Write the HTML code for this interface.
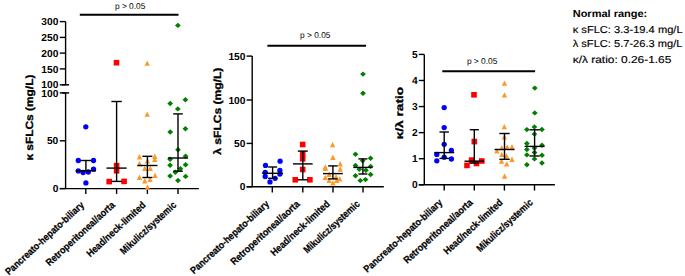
<!DOCTYPE html>
<html><head><meta charset="utf-8"><style>
html,body{margin:0;padding:0;background:#fff;}
svg{display:block;}
text{font-family:"Liberation Sans",sans-serif;fill:#000;text-rendering:geometricPrecision;}
</style></head><body>
<svg width="685" height="276" viewBox="0 0 685 276">
<line x1="65.6" y1="21.6" x2="65.6" y2="84.8" stroke="#000" stroke-width="1.4"/>
<line x1="59.8" y1="21.6" x2="65.6" y2="21.6" stroke="#000" stroke-width="1.4"/>
<text x="58.3" y="25.25" font-size="10.2" text-anchor="end" font-weight="bold">300</text>
<line x1="59.8" y1="37.4" x2="65.6" y2="37.4" stroke="#000" stroke-width="1.4"/>
<text x="58.3" y="41.05" font-size="10.2" text-anchor="end" font-weight="bold">250</text>
<line x1="59.8" y1="53.1" x2="65.6" y2="53.1" stroke="#000" stroke-width="1.4"/>
<text x="58.3" y="56.75" font-size="10.2" text-anchor="end" font-weight="bold">200</text>
<line x1="59.8" y1="68.9" x2="65.6" y2="68.9" stroke="#000" stroke-width="1.4"/>
<text x="58.3" y="72.55000000000001" font-size="10.2" text-anchor="end" font-weight="bold">150</text>
<line x1="59.8" y1="84.8" x2="65.6" y2="84.8" stroke="#000" stroke-width="1.4"/>
<text x="58.3" y="88.45" font-size="10.2" text-anchor="end" font-weight="bold">100</text>
<line x1="62.1" y1="84.8" x2="69.1" y2="84.8" stroke="#000" stroke-width="1.5"/>
<line x1="65.6" y1="92.9" x2="65.6" y2="188.6" stroke="#000" stroke-width="1.4"/>
<line x1="62.1" y1="92.9" x2="69.1" y2="92.9" stroke="#000" stroke-width="1.5"/>
<line x1="59.8" y1="92.9" x2="65.6" y2="92.9" stroke="#000" stroke-width="1.4"/>
<text x="58.3" y="96.55000000000001" font-size="10.2" text-anchor="end" font-weight="bold">100</text>
<line x1="59.8" y1="140.8" x2="65.6" y2="140.8" stroke="#000" stroke-width="1.4"/>
<text x="58.3" y="144.45000000000002" font-size="10.2" text-anchor="end" font-weight="bold">50</text>
<line x1="59.8" y1="188.6" x2="65.6" y2="188.6" stroke="#000" stroke-width="1.4"/>
<text x="58.3" y="192.25" font-size="10.2" text-anchor="end" font-weight="bold">0</text>
<line x1="59.8" y1="188.6" x2="198.9" y2="188.6" stroke="#000" stroke-width="1.4"/>
<line x1="85.8" y1="188.6" x2="85.8" y2="193.9" stroke="#000" stroke-width="1.4"/>
<line x1="116.6" y1="188.6" x2="116.6" y2="193.9" stroke="#000" stroke-width="1.4"/>
<line x1="147.4" y1="188.6" x2="147.4" y2="193.9" stroke="#000" stroke-width="1.4"/>
<line x1="178.0" y1="188.6" x2="178.0" y2="193.9" stroke="#000" stroke-width="1.4"/>
<circle cx="85.8" cy="126.8" r="2.65" fill="#0000FF"/>
<circle cx="78.3" cy="160.5" r="2.65" fill="#0000FF"/>
<circle cx="93.5" cy="160.5" r="2.65" fill="#0000FF"/>
<circle cx="78.3" cy="170.9" r="2.65" fill="#0000FF"/>
<circle cx="83.1" cy="172.5" r="2.65" fill="#0000FF"/>
<circle cx="88.3" cy="172" r="2.65" fill="#0000FF"/>
<circle cx="93.5" cy="169.2" r="2.65" fill="#0000FF"/>
<circle cx="85.9" cy="182.9" r="2.65" fill="#0000FF"/>
<line x1="85.9" y1="160.5" x2="85.9" y2="170.7" stroke="#000" stroke-width="1.4"/>
<line x1="80.7" y1="160.5" x2="91.10000000000001" y2="160.5" stroke="#000" stroke-width="1.4"/>
<line x1="80.7" y1="170.7" x2="91.10000000000001" y2="170.7" stroke="#000" stroke-width="1.4"/>
<line x1="75.80000000000001" y1="170.7" x2="96.0" y2="170.7" stroke="#000" stroke-width="1.4"/>
<rect x="113.70" y="59.90" width="5.6" height="5.6" fill="#FF0000"/>
<rect x="113.80" y="162.80" width="5.6" height="5.6" fill="#FF0000"/>
<rect x="113.80" y="168.00" width="5.6" height="5.6" fill="#FF0000"/>
<rect x="106.40" y="178.80" width="5.6" height="5.6" fill="#FF0000"/>
<rect x="121.30" y="178.60" width="5.6" height="5.6" fill="#FF0000"/>
<line x1="116.6" y1="101.5" x2="116.6" y2="181.4" stroke="#000" stroke-width="1.4"/>
<line x1="111.39999999999999" y1="101.5" x2="121.8" y2="101.5" stroke="#000" stroke-width="1.4"/>
<line x1="111.39999999999999" y1="181.4" x2="121.8" y2="181.4" stroke="#000" stroke-width="1.4"/>
<line x1="106.5" y1="168.1" x2="126.69999999999999" y2="168.1" stroke="#000" stroke-width="1.4"/>
<polygon points="147.20,60.40 149.90,65.80 144.50,65.80" fill="#F99A2B"/>
<polygon points="147.20,111.40 149.90,116.80 144.50,116.80" fill="#F99A2B"/>
<polygon points="139.50,154.10 142.20,159.50 136.80,159.50" fill="#F99A2B"/>
<polygon points="154.80,153.60 157.50,159.00 152.10,159.00" fill="#F99A2B"/>
<polygon points="154.80,156.50 157.50,161.90 152.10,161.90" fill="#F99A2B"/>
<polygon points="147.50,158.10 150.20,163.50 144.80,163.50" fill="#F99A2B"/>
<polygon points="139.50,160.80 142.20,166.20 136.80,166.20" fill="#F99A2B"/>
<polygon points="144.80,165.70 147.50,171.10 142.10,171.10" fill="#F99A2B"/>
<polygon points="150.30,165.70 153.00,171.10 147.60,171.10" fill="#F99A2B"/>
<polygon points="139.50,174.50 142.20,179.90 136.80,179.90" fill="#F99A2B"/>
<polygon points="155.10,172.70 157.80,178.10 152.40,178.10" fill="#F99A2B"/>
<polygon points="144.80,178.00 147.50,183.40 142.10,183.40" fill="#F99A2B"/>
<polygon points="150.00,176.70 152.70,182.10 147.30,182.10" fill="#F99A2B"/>
<polygon points="147.50,184.30 150.20,189.70 144.80,189.70" fill="#F99A2B"/>
<line x1="147.4" y1="156.3" x2="147.4" y2="177.5" stroke="#000" stroke-width="1.4"/>
<line x1="142.4" y1="156.3" x2="152.4" y2="156.3" stroke="#000" stroke-width="1.4"/>
<line x1="142.4" y1="177.5" x2="152.4" y2="177.5" stroke="#000" stroke-width="1.4"/>
<line x1="137.35" y1="165.5" x2="157.45000000000002" y2="165.5" stroke="#000" stroke-width="1.4"/>
<polygon points="177.90,22.70 180.80,25.40 177.90,28.10 175.00,25.40" fill="#008000"/>
<polygon points="170.20,100.80 173.10,103.50 170.20,106.20 167.30,103.50" fill="#008000"/>
<polygon points="185.40,97.10 188.30,99.80 185.40,102.50 182.50,99.80" fill="#008000"/>
<polygon points="177.80,106.20 180.70,108.90 177.80,111.60 174.90,108.90" fill="#008000"/>
<polygon points="170.20,129.30 173.10,132.00 170.20,134.70 167.30,132.00" fill="#008000"/>
<polygon points="185.40,126.00 188.30,128.70 185.40,131.40 182.50,128.70" fill="#008000"/>
<polygon points="178.00,147.10 180.90,149.80 178.00,152.50 175.10,149.80" fill="#008000"/>
<polygon points="170.10,156.50 173.00,159.20 170.10,161.90 167.20,159.20" fill="#008000"/>
<polygon points="185.60,153.50 188.50,156.20 185.60,158.90 182.70,156.20" fill="#008000"/>
<polygon points="170.10,162.60 173.00,165.30 170.10,168.00 167.20,165.30" fill="#008000"/>
<polygon points="185.60,162.10 188.50,164.80 185.60,167.50 182.70,164.80" fill="#008000"/>
<polygon points="175.40,169.50 178.30,172.20 175.40,174.90 172.50,172.20" fill="#008000"/>
<polygon points="180.40,166.00 183.30,168.70 180.40,171.40 177.50,168.70" fill="#008000"/>
<polygon points="170.10,173.30 173.00,176.00 170.10,178.70 167.20,176.00" fill="#008000"/>
<polygon points="185.60,173.70 188.50,176.40 185.60,179.10 182.70,176.40" fill="#008000"/>
<polygon points="178.00,177.80 180.90,180.50 178.00,183.20 175.10,180.50" fill="#008000"/>
<line x1="178.0" y1="113.9" x2="178.0" y2="171.2" stroke="#000" stroke-width="1.4"/>
<line x1="173.2" y1="113.9" x2="182.8" y2="113.9" stroke="#000" stroke-width="1.4"/>
<line x1="173.2" y1="171.2" x2="182.8" y2="171.2" stroke="#000" stroke-width="1.4"/>
<line x1="167.9" y1="158.0" x2="188.1" y2="158.0" stroke="#000" stroke-width="1.4"/>
<line x1="79.8" y1="14.7" x2="178.5" y2="14.7" stroke="#000" stroke-width="2"/>
<text x="115" y="8.8" font-size="8.5" textLength="30.3" lengthAdjust="spacingAndGlyphs">p &gt; 0.05</text>
<text x="33.2" y="117.6" font-size="10.5" text-anchor="middle" font-weight="bold" textLength="86" lengthAdjust="spacingAndGlyphs" transform="rotate(-90 33.2 117.6)" stroke="#000" stroke-width="0.3">κ sFLCs (mg/L)</text>
<line x1="252.2" y1="56.1" x2="252.2" y2="186.8" stroke="#000" stroke-width="1.4"/>
<line x1="246.6" y1="56.1" x2="252.2" y2="56.1" stroke="#000" stroke-width="1.4"/>
<text x="245.4" y="59.75" font-size="10.2" text-anchor="end" font-weight="bold">150</text>
<line x1="246.6" y1="100.0" x2="252.2" y2="100.0" stroke="#000" stroke-width="1.4"/>
<text x="245.4" y="103.65" font-size="10.2" text-anchor="end" font-weight="bold">100</text>
<line x1="246.6" y1="143.4" x2="252.2" y2="143.4" stroke="#000" stroke-width="1.4"/>
<text x="245.4" y="147.05" font-size="10.2" text-anchor="end" font-weight="bold">50</text>
<line x1="246.6" y1="186.8" x2="252.2" y2="186.8" stroke="#000" stroke-width="1.4"/>
<text x="245.4" y="190.45000000000002" font-size="10.2" text-anchor="end" font-weight="bold">0</text>
<line x1="246.6" y1="186.8" x2="383.8" y2="186.8" stroke="#000" stroke-width="1.4"/>
<line x1="272.3" y1="186.8" x2="272.3" y2="192.6" stroke="#000" stroke-width="1.4"/>
<line x1="302.8" y1="186.8" x2="302.8" y2="192.6" stroke="#000" stroke-width="1.4"/>
<line x1="333.0" y1="186.8" x2="333.0" y2="192.6" stroke="#000" stroke-width="1.4"/>
<line x1="363.0" y1="186.8" x2="363.0" y2="192.6" stroke="#000" stroke-width="1.4"/>
<circle cx="265.5" cy="165.4" r="2.65" fill="#0000FF"/>
<circle cx="280.1" cy="161.2" r="2.65" fill="#0000FF"/>
<circle cx="265.2" cy="172.3" r="2.65" fill="#0000FF"/>
<circle cx="279.9" cy="170.5" r="2.65" fill="#0000FF"/>
<circle cx="279.9" cy="174.1" r="2.65" fill="#0000FF"/>
<circle cx="265.2" cy="176.5" r="2.65" fill="#0000FF"/>
<circle cx="275.1" cy="178.3" r="2.65" fill="#0000FF"/>
<circle cx="270" cy="181.9" r="2.65" fill="#0000FF"/>
<line x1="272.6" y1="167" x2="272.6" y2="178.3" stroke="#000" stroke-width="1.4"/>
<line x1="268.1" y1="167" x2="277.1" y2="167" stroke="#000" stroke-width="1.4"/>
<line x1="268.1" y1="178.3" x2="277.1" y2="178.3" stroke="#000" stroke-width="1.4"/>
<line x1="262.15000000000003" y1="173.3" x2="283.05" y2="173.3" stroke="#000" stroke-width="1.4"/>
<rect x="299.90" y="141.70" width="5.6" height="5.6" fill="#FF0000"/>
<rect x="299.90" y="151.20" width="5.6" height="5.6" fill="#FF0000"/>
<rect x="299.90" y="156.00" width="5.6" height="5.6" fill="#FF0000"/>
<rect x="299.90" y="166.70" width="5.6" height="5.6" fill="#FF0000"/>
<rect x="292.50" y="177.00" width="5.6" height="5.6" fill="#FF0000"/>
<rect x="307.10" y="177.00" width="5.6" height="5.6" fill="#FF0000"/>
<line x1="302.8" y1="151.1" x2="302.8" y2="179.8" stroke="#000" stroke-width="1.4"/>
<line x1="297.8" y1="151.1" x2="307.8" y2="151.1" stroke="#000" stroke-width="1.4"/>
<line x1="297.8" y1="179.8" x2="307.8" y2="179.8" stroke="#000" stroke-width="1.4"/>
<line x1="292.95" y1="163.9" x2="312.65000000000003" y2="163.9" stroke="#000" stroke-width="1.4"/>
<polygon points="332.60,141.90 335.30,147.30 329.90,147.30" fill="#F99A2B"/>
<polygon points="332.90,154.60 335.60,160.00 330.20,160.00" fill="#F99A2B"/>
<polygon points="325.30,164.30 328.00,169.70 322.60,169.70" fill="#F99A2B"/>
<polygon points="325.30,165.60 328.00,171.00 322.60,171.00" fill="#F99A2B"/>
<polygon points="340.20,161.00 342.90,166.40 337.50,166.40" fill="#F99A2B"/>
<polygon points="340.20,166.30 342.90,171.70 337.50,171.70" fill="#F99A2B"/>
<polygon points="329.10,171.60 331.80,177.00 326.40,177.00" fill="#F99A2B"/>
<polygon points="325.30,174.70 328.00,180.10 322.60,180.10" fill="#F99A2B"/>
<polygon points="336.00,173.90 338.70,179.30 333.30,179.30" fill="#F99A2B"/>
<polygon points="339.80,176.20 342.50,181.60 337.10,181.60" fill="#F99A2B"/>
<polygon points="329.10,177.70 331.80,183.10 326.40,183.10" fill="#F99A2B"/>
<polygon points="336.70,177.70 339.40,183.10 334.00,183.10" fill="#F99A2B"/>
<polygon points="332.90,180.00 335.60,185.40 330.20,185.40" fill="#F99A2B"/>
<line x1="332.9" y1="165.9" x2="332.9" y2="178.9" stroke="#000" stroke-width="1.4"/>
<line x1="328.15" y1="165.9" x2="337.65" y2="165.9" stroke="#000" stroke-width="1.4"/>
<line x1="328.15" y1="178.9" x2="337.65" y2="178.9" stroke="#000" stroke-width="1.4"/>
<line x1="323.0" y1="173.6" x2="342.79999999999995" y2="173.6" stroke="#000" stroke-width="1.4"/>
<polygon points="363.00,71.40 365.90,74.10 363.00,76.80 360.10,74.10" fill="#008000"/>
<polygon points="363.00,90.60 365.90,93.30 363.00,96.00 360.10,93.30" fill="#008000"/>
<polygon points="355.50,151.50 358.40,154.20 355.50,156.90 352.60,154.20" fill="#008000"/>
<polygon points="370.60,155.60 373.50,158.30 370.60,161.00 367.70,158.30" fill="#008000"/>
<polygon points="362.70,158.10 365.60,160.80 362.70,163.50 359.80,160.80" fill="#008000"/>
<polygon points="355.50,162.80 358.40,165.50 355.50,168.20 352.60,165.50" fill="#008000"/>
<polygon points="370.60,163.70 373.50,166.40 370.60,169.10 367.70,166.40" fill="#008000"/>
<polygon points="359.30,166.50 362.20,169.20 359.30,171.90 356.40,169.20" fill="#008000"/>
<polygon points="365.90,167.50 368.80,170.20 365.90,172.90 363.00,170.20" fill="#008000"/>
<polygon points="355.50,173.10 358.40,175.80 355.50,178.50 352.60,175.80" fill="#008000"/>
<polygon points="370.60,171.80 373.50,174.50 370.60,177.20 367.70,174.50" fill="#008000"/>
<polygon points="360.30,177.90 363.20,180.60 360.30,183.30 357.40,180.60" fill="#008000"/>
<polygon points="365.50,176.90 368.40,179.60 365.50,182.30 362.60,179.60" fill="#008000"/>
<line x1="362.9" y1="158.9" x2="362.9" y2="174" stroke="#000" stroke-width="1.4"/>
<line x1="358.4" y1="158.9" x2="367.4" y2="158.9" stroke="#000" stroke-width="1.4"/>
<line x1="358.4" y1="174" x2="367.4" y2="174" stroke="#000" stroke-width="1.4"/>
<line x1="353.29999999999995" y1="167.4" x2="372.5" y2="167.4" stroke="#000" stroke-width="1.4"/>
<line x1="267.4" y1="45.75" x2="366.1" y2="45.75" stroke="#000" stroke-width="2"/>
<text x="300.1" y="37.7" font-size="8.5" textLength="30.3" lengthAdjust="spacingAndGlyphs">p &gt; 0.05</text>
<text x="220.9" y="111.2" font-size="10.5" text-anchor="middle" font-weight="bold" textLength="87" lengthAdjust="spacingAndGlyphs" transform="rotate(-90 220.9 111.2)" stroke="#000" stroke-width="0.3">λ sFLCs (mg/L)</text>
<line x1="424.3" y1="54.4" x2="424.3" y2="184.8" stroke="#000" stroke-width="1.4"/>
<line x1="418.8" y1="184.8" x2="424.3" y2="184.8" stroke="#000" stroke-width="1.4"/>
<text x="417.7" y="188.45000000000002" font-size="10.2" text-anchor="end" font-weight="bold">0</text>
<line x1="418.8" y1="158.72000000000003" x2="424.3" y2="158.72000000000003" stroke="#000" stroke-width="1.4"/>
<text x="417.7" y="162.37000000000003" font-size="10.2" text-anchor="end" font-weight="bold">1</text>
<line x1="418.8" y1="132.64000000000001" x2="424.3" y2="132.64000000000001" stroke="#000" stroke-width="1.4"/>
<text x="417.7" y="136.29000000000002" font-size="10.2" text-anchor="end" font-weight="bold">2</text>
<line x1="418.8" y1="106.56000000000002" x2="424.3" y2="106.56000000000002" stroke="#000" stroke-width="1.4"/>
<text x="417.7" y="110.21000000000002" font-size="10.2" text-anchor="end" font-weight="bold">3</text>
<line x1="418.8" y1="80.48000000000002" x2="424.3" y2="80.48000000000002" stroke="#000" stroke-width="1.4"/>
<text x="417.7" y="84.13000000000002" font-size="10.2" text-anchor="end" font-weight="bold">4</text>
<line x1="418.8" y1="54.400000000000034" x2="424.3" y2="54.400000000000034" stroke="#000" stroke-width="1.4"/>
<text x="417.7" y="58.05000000000003" font-size="10.2" text-anchor="end" font-weight="bold">5</text>
<line x1="418.8" y1="184.8" x2="554.9" y2="184.8" stroke="#000" stroke-width="1.4"/>
<line x1="444.2" y1="184.8" x2="444.2" y2="190.6" stroke="#000" stroke-width="1.4"/>
<line x1="474.3" y1="184.8" x2="474.3" y2="190.6" stroke="#000" stroke-width="1.4"/>
<line x1="504.4" y1="184.8" x2="504.4" y2="190.6" stroke="#000" stroke-width="1.4"/>
<line x1="534.5" y1="184.8" x2="534.5" y2="190.6" stroke="#000" stroke-width="1.4"/>
<circle cx="444.2" cy="107.6" r="2.65" fill="#0000FF"/>
<circle cx="444.2" cy="127.6" r="2.65" fill="#0000FF"/>
<circle cx="444.2" cy="144.3" r="2.65" fill="#0000FF"/>
<circle cx="451.4" cy="150.3" r="2.65" fill="#0000FF"/>
<circle cx="436.8" cy="154.4" r="2.65" fill="#0000FF"/>
<circle cx="444.2" cy="157.2" r="2.65" fill="#0000FF"/>
<circle cx="451.4" cy="159" r="2.65" fill="#0000FF"/>
<circle cx="436.8" cy="160.8" r="2.65" fill="#0000FF"/>
<line x1="444.2" y1="132" x2="444.2" y2="158.4" stroke="#000" stroke-width="1.4"/>
<line x1="439.5" y1="132" x2="448.9" y2="132" stroke="#000" stroke-width="1.4"/>
<line x1="439.5" y1="158.4" x2="448.9" y2="158.4" stroke="#000" stroke-width="1.4"/>
<line x1="434.2" y1="152.6" x2="454.2" y2="152.6" stroke="#000" stroke-width="1.4"/>
<rect x="471.20" y="92.00" width="5.6" height="5.6" fill="#FF0000"/>
<rect x="471.50" y="138.80" width="5.6" height="5.6" fill="#FF0000"/>
<rect x="468.80" y="157.30" width="5.6" height="5.6" fill="#FF0000"/>
<rect x="479.00" y="158.20" width="5.6" height="5.6" fill="#FF0000"/>
<rect x="473.70" y="160.70" width="5.6" height="5.6" fill="#FF0000"/>
<rect x="464.20" y="162.60" width="5.6" height="5.6" fill="#FF0000"/>
<line x1="474.3" y1="129.7" x2="474.3" y2="163.1" stroke="#000" stroke-width="1.4"/>
<line x1="469.75" y1="129.7" x2="478.85" y2="129.7" stroke="#000" stroke-width="1.4"/>
<line x1="469.75" y1="163.1" x2="478.85" y2="163.1" stroke="#000" stroke-width="1.4"/>
<line x1="464.5" y1="161.2" x2="484.1" y2="161.2" stroke="#000" stroke-width="1.4"/>
<polygon points="504.50,80.40 507.20,85.80 501.80,85.80" fill="#F99A2B"/>
<polygon points="504.50,92.20 507.20,97.60 501.80,97.60" fill="#F99A2B"/>
<polygon points="504.30,123.90 507.00,129.30 501.60,129.30" fill="#F99A2B"/>
<polygon points="504.30,134.10 507.00,139.50 501.60,139.50" fill="#F99A2B"/>
<polygon points="496.90,148.10 499.60,153.50 494.20,153.50" fill="#F99A2B"/>
<polygon points="501.80,144.90 504.50,150.30 499.10,150.30" fill="#F99A2B"/>
<polygon points="507.20,144.30 509.90,149.70 504.50,149.70" fill="#F99A2B"/>
<polygon points="512.00,144.00 514.70,149.40 509.30,149.40" fill="#F99A2B"/>
<polygon points="501.80,151.70 504.50,157.10 499.10,157.10" fill="#F99A2B"/>
<polygon points="506.40,153.00 509.10,158.40 503.70,158.40" fill="#F99A2B"/>
<polygon points="512.00,156.60 514.70,162.00 509.30,162.00" fill="#F99A2B"/>
<polygon points="501.50,158.30 504.20,163.70 498.80,163.70" fill="#F99A2B"/>
<polygon points="506.70,161.20 509.40,166.60 504.00,166.60" fill="#F99A2B"/>
<polygon points="504.60,173.30 507.30,178.70 501.90,178.70" fill="#F99A2B"/>
<line x1="504.5" y1="133.5" x2="504.5" y2="159.3" stroke="#000" stroke-width="1.4"/>
<line x1="499.35" y1="133.5" x2="509.65" y2="133.5" stroke="#000" stroke-width="1.4"/>
<line x1="499.35" y1="159.3" x2="509.65" y2="159.3" stroke="#000" stroke-width="1.4"/>
<line x1="494.5" y1="149.5" x2="514.5" y2="149.5" stroke="#000" stroke-width="1.4"/>
<polygon points="534.80,85.40 537.70,88.10 534.80,90.80 531.90,88.10" fill="#008000"/>
<polygon points="534.80,110.20 537.70,112.90 534.80,115.60 531.90,112.90" fill="#008000"/>
<polygon points="526.90,126.90 529.80,129.60 526.90,132.30 524.00,129.60" fill="#008000"/>
<polygon points="534.40,124.20 537.30,126.90 534.40,129.60 531.50,126.90" fill="#008000"/>
<polygon points="541.90,126.80 544.80,129.50 541.90,132.20 539.00,129.50" fill="#008000"/>
<polygon points="534.40,131.40 537.30,134.10 534.40,136.80 531.50,134.10" fill="#008000"/>
<polygon points="526.90,140.80 529.80,143.50 526.90,146.20 524.00,143.50" fill="#008000"/>
<polygon points="542.00,142.60 544.90,145.30 542.00,148.00 539.10,145.30" fill="#008000"/>
<polygon points="526.90,146.80 529.80,149.50 526.90,152.20 524.00,149.50" fill="#008000"/>
<polygon points="534.50,145.30 537.40,148.00 534.50,150.70 531.60,148.00" fill="#008000"/>
<polygon points="526.90,152.20 529.80,154.90 526.90,157.60 524.00,154.90" fill="#008000"/>
<polygon points="534.50,149.80 537.40,152.50 534.50,155.20 531.60,152.50" fill="#008000"/>
<polygon points="542.00,152.50 544.90,155.20 542.00,157.90 539.10,155.20" fill="#008000"/>
<polygon points="534.50,156.20 537.40,158.90 534.50,161.60 531.60,158.90" fill="#008000"/>
<polygon points="526.90,162.10 529.80,164.80 526.90,167.50 524.00,164.80" fill="#008000"/>
<polygon points="542.00,160.30 544.90,163.00 542.00,165.70 539.10,163.00" fill="#008000"/>
<line x1="534.6" y1="129.8" x2="534.6" y2="156" stroke="#000" stroke-width="1.4"/>
<line x1="529.5" y1="129.8" x2="539.7" y2="129.8" stroke="#000" stroke-width="1.4"/>
<line x1="529.5" y1="156" x2="539.7" y2="156" stroke="#000" stroke-width="1.4"/>
<line x1="524.6" y1="146.4" x2="544.6" y2="146.4" stroke="#000" stroke-width="1.4"/>
<line x1="442.3" y1="71.2" x2="535.1" y2="71.2" stroke="#000" stroke-width="2"/>
<text x="466.9" y="63.8" font-size="8.5" textLength="30.5" lengthAdjust="spacingAndGlyphs">p &gt; 0.05</text>
<text x="402.8" y="113.1" font-size="10.5" text-anchor="middle" font-weight="bold" textLength="52.5" lengthAdjust="spacingAndGlyphs" transform="rotate(-90 402.8 113.1)" stroke="#000" stroke-width="0.3">κ/λ ratio</text>
<text x="84.8" y="205.9" font-size="10.0" text-anchor="end" font-weight="bold" textLength="103" lengthAdjust="spacingAndGlyphs" transform="rotate(-42.6 84.8 205.9)" stroke="#000" stroke-width="0.25">Pancreato-hepato-biliary</text>
<text x="115.6" y="205.9" font-size="10.0" text-anchor="end" font-weight="bold" textLength="89.7" lengthAdjust="spacingAndGlyphs" transform="rotate(-42.6 115.6 205.9)" stroke="#000" stroke-width="0.25">Retroperitoneal/aorta</text>
<text x="146.4" y="205.9" font-size="10.0" text-anchor="end" font-weight="bold" textLength="76.4" lengthAdjust="spacingAndGlyphs" transform="rotate(-42.6 146.4 205.9)" stroke="#000" stroke-width="0.25">Head/neck-limited</text>
<text x="177.0" y="205.9" font-size="10.0" text-anchor="end" font-weight="bold" textLength="72.5" lengthAdjust="spacingAndGlyphs" transform="rotate(-42.6 177.0 205.9)" stroke="#000" stroke-width="0.25">Mikulicz/systemic</text>
<text x="269.8" y="204.8" font-size="10.0" text-anchor="end" font-weight="bold" textLength="103" lengthAdjust="spacingAndGlyphs" transform="rotate(-42.6 269.8 204.8)" stroke="#000" stroke-width="0.25">Pancreato-hepato-biliary</text>
<text x="300.3" y="204.8" font-size="10.0" text-anchor="end" font-weight="bold" textLength="89.7" lengthAdjust="spacingAndGlyphs" transform="rotate(-42.6 300.3 204.8)" stroke="#000" stroke-width="0.25">Retroperitoneal/aorta</text>
<text x="330.5" y="204.8" font-size="10.0" text-anchor="end" font-weight="bold" textLength="76.4" lengthAdjust="spacingAndGlyphs" transform="rotate(-42.6 330.5 204.8)" stroke="#000" stroke-width="0.25">Head/neck-limited</text>
<text x="360.5" y="204.8" font-size="10.0" text-anchor="end" font-weight="bold" textLength="72.5" lengthAdjust="spacingAndGlyphs" transform="rotate(-42.6 360.5 204.8)" stroke="#000" stroke-width="0.25">Mikulicz/systemic</text>
<text x="443.2" y="203.4" font-size="10.0" text-anchor="end" font-weight="bold" textLength="103" lengthAdjust="spacingAndGlyphs" transform="rotate(-42.6 443.2 203.4)" stroke="#000" stroke-width="0.25">Pancreato-hepato-biliary</text>
<text x="473.3" y="203.4" font-size="10.0" text-anchor="end" font-weight="bold" textLength="89.7" lengthAdjust="spacingAndGlyphs" transform="rotate(-42.6 473.3 203.4)" stroke="#000" stroke-width="0.25">Retroperitoneal/aorta</text>
<text x="503.4" y="203.4" font-size="10.0" text-anchor="end" font-weight="bold" textLength="76.4" lengthAdjust="spacingAndGlyphs" transform="rotate(-42.6 503.4 203.4)" stroke="#000" stroke-width="0.25">Head/neck-limited</text>
<text x="533.5" y="203.4" font-size="10.0" text-anchor="end" font-weight="bold" textLength="72.5" lengthAdjust="spacingAndGlyphs" transform="rotate(-42.6 533.5 203.4)" stroke="#000" stroke-width="0.25">Mikulicz/systemic</text>
<text x="572.7" y="17.1" font-size="10.2" font-weight="bold" textLength="74.6" lengthAdjust="spacingAndGlyphs">Normal range:</text>
<text x="572.7" y="32.6" font-size="10.1" textLength="109.9" lengthAdjust="spacingAndGlyphs" stroke="#000" stroke-width="0.15">κ sFLC: 3.3-19.4 mg/L</text>
<text x="572.7" y="47.4" font-size="10.1" textLength="109.7" lengthAdjust="spacingAndGlyphs" stroke="#000" stroke-width="0.15">λ sFLC: 5.7-26.3 mg/L</text>
<text x="572.7" y="62.7" font-size="10.1" textLength="98.7" lengthAdjust="spacingAndGlyphs" stroke="#000" stroke-width="0.15">κ/λ ratio: 0.26-1.65</text>
</svg>
</body></html>
